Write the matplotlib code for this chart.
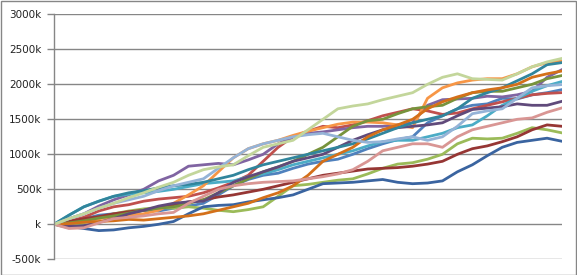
import matplotlib
matplotlib.use("Agg")
import matplotlib.pyplot as plt
from matplotlib.patches import Rectangle

# values in thousands (k)
s_blue = [0,30,80,130,150,160,200,190,230,260,300,420,550,640,700,730,800,860,900,930,1000,1080,1150,1210,1250,1450,1550,1650,1700,1720,1800,1790,1850,1880,1924]
s_red = [0,40,100,190,250,280,330,360,380,400,450,520,600,700,900,1100,1250,1330,1400,1380,1420,1480,1550,1600,1650,1620,1570,1590,1650,1700,1750,1800,1850,1870,1881]
s_green = [0,-50,20,90,150,190,220,240,230,250,230,200,180,210,250,400,550,570,600,630,650,720,800,860,880,930,1000,1150,1230,1220,1230,1300,1380,1350,1306]
s_purple = [0,80,150,260,350,420,500,620,700,830,850,870,850,920,1000,1150,1250,1300,1320,1350,1380,1400,1400,1420,1450,1700,1780,1790,1800,1830,1820,1850,1900,2100,2210]
s_aqua = [0,130,250,330,400,430,450,470,500,540,580,600,620,680,720,780,850,900,950,1000,1050,1120,1180,1200,1200,1250,1300,1380,1420,1550,1700,1800,1900,1980,2040]
s_orange = [0,20,50,80,100,130,150,200,300,420,550,750,950,1080,1150,1200,1270,1330,1380,1430,1460,1460,1450,1420,1380,1800,1950,2020,2060,2080,2080,2150,2250,2310,2330]
s_dkblue = [0,-30,-60,-90,-80,-50,-30,0,40,150,250,270,280,320,350,380,420,500,580,590,600,620,640,600,580,590,620,750,850,980,1100,1170,1200,1230,1186]
s_dkred = [0,40,80,110,150,180,200,240,280,320,350,390,420,460,500,550,600,650,700,730,760,790,800,810,830,860,900,1000,1080,1120,1180,1250,1350,1420,1400]
s_olive = [0,20,50,90,120,160,200,230,250,300,350,450,550,650,750,820,900,1000,1100,1250,1400,1480,1500,1580,1650,1680,1700,1800,1880,1900,1900,1950,2000,2080,2125]
s_dkpurple = [0,-30,-20,30,80,150,200,260,300,320,330,450,600,680,750,820,900,950,1000,1100,1200,1280,1350,1380,1400,1420,1450,1550,1640,1660,1680,1720,1700,1700,1757]
s_teal = [0,130,250,330,400,450,480,520,550,570,600,650,700,780,850,900,950,1000,1050,1100,1150,1220,1300,1380,1450,1500,1550,1650,1800,1880,1950,2050,2150,2280,2310]
s_dkorange = [0,10,30,40,50,70,60,80,100,120,150,200,250,300,380,450,550,700,900,1000,1100,1250,1350,1420,1500,1650,1750,1820,1880,1920,1950,2000,2100,2150,2190]
s_ltblue = [0,80,150,230,300,350,400,480,550,600,650,800,950,1080,1150,1200,1250,1280,1300,1250,1200,1170,1180,1220,1250,1200,1250,1400,1580,1620,1650,1800,1950,1980,1996]
s_pink = [0,-60,-50,20,80,100,120,150,170,300,400,500,550,580,600,610,620,650,680,720,780,900,1050,1100,1150,1150,1100,1250,1350,1400,1450,1500,1520,1600,1663]
s_ltgreen = [0,80,150,230,300,380,450,530,600,700,780,820,850,980,1100,1150,1200,1350,1500,1650,1690,1720,1780,1830,1880,2000,2100,2150,2080,2070,2060,2150,2250,2320,2370]

series = [s_blue, s_red, s_green, s_purple, s_aqua, s_orange,
          s_dkblue, s_dkred, s_olive, s_dkpurple, s_teal, s_dkorange,
          s_ltblue, s_pink, s_ltgreen]
colors = ['#4F81BD', '#C0504D', '#9BBB59', '#8064A2', '#4BACC6', '#F79646',
          '#3A64A0', '#963634', '#77933C', '#604A7B', '#31859C', '#D4701A',
          '#95B3D7', '#D99694', '#C3D69B']

yticks = [-500, 0, 500, 1000, 1500, 2000, 2500, 3000]
ytick_labels = ['-500k', 'k', '500k', '1000k', '1500k', '2000k', '2500k', '3000k']

W, H = 577, 275
fig = plt.figure(figsize=(W/100, H/100), dpi=100)
ax = fig.add_axes([54/W, 1-259.3/H, (562-54)/W, (259.3-14.3)/H])

for s, c in zip(series, colors):
    ax.plot(range(len(s)), s, color=c, lw=2.0, solid_joinstyle='round')

ax.set_xlim(0, len(s_blue)-1)
ax.set_ylim(-500, 3000)
ax.set_yticks(yticks)
ax.set_yticklabels(ytick_labels, fontsize=7.5, color='#222222')
ax.set_xticks([])
ax.grid(axis='y', color='#868686', lw=1.0)
ax.set_axisbelow(True)
for sp in ['top', 'right', 'bottom']:
    ax.spines[sp].set_visible(False)
ax.spines['left'].set_color('#868686')
ax.spines['left'].set_linewidth(1.0)
ax.tick_params(axis='y', length=5, width=1.0, color='#868686', pad=4)

fig.patches.append(Rectangle((0.5/W, 0.5/H), 1-1.5/W, 1-1.5/H, transform=fig.transFigure,
                             fill=False, edgecolor='#868686', lw=1.0))

fig.savefig('out.png', dpi=100)
